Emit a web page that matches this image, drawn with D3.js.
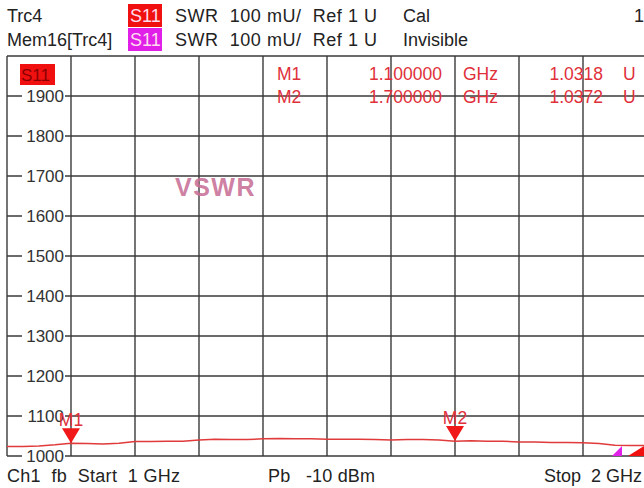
<!DOCTYPE html>
<html>
<head>
<meta charset="utf-8">
<script src="https://cdn.jsdelivr.net/npm/d3@7"></script>
<style>
    html, body { margin: 0; padding: 0; background: #fff; }
    svg { display: block; font-family: "Liberation Sans", Arial, sans-serif; }
    .grid line { stroke: #3a3a3a; stroke-width: 1.4; }
    .hdr { font-size: 18px; fill: #222; }
    .ylab { font-size: 17px; fill: #333; }
    .mk { font-size: 17.5px; fill: #e0303a; }
</style>
</head>
<body>
<svg id="chart" width="644" height="488"></svg>
<script>
// trace S11 SWR in mU, sampled every 25 MHz from 1 to 2 GHz
const freqGHz = [1.000, 1.025, 1.050, 1.075, 1.100, 1.125, 1.150, 1.175, 1.200, 1.225,
                 1.250, 1.275, 1.300, 1.325, 1.350, 1.375, 1.400, 1.425, 1.450, 1.475,
                 1.500, 1.525, 1.550, 1.575, 1.600, 1.625, 1.650, 1.675, 1.700, 1.725,
                 1.750, 1.775, 1.800, 1.825, 1.850, 1.875, 1.900, 1.925, 1.950, 1.975, 2.000];
const swrValues = [1024, 1024, 1025, 1028, 1032, 1031, 1030, 1032, 1036, 1036,
                   1037, 1037, 1040, 1042, 1041, 1041, 1043, 1044, 1043, 1043,
                   1042, 1042, 1042, 1041, 1040, 1041, 1041, 1040, 1037, 1038,
                   1037, 1037, 1035, 1035, 1034, 1034, 1033, 1031, 1027, 1026, 1026];

const yTicks = [1000, 1100, 1200, 1300, 1400, 1500, 1600, 1700, 1800, 1900, 2000];
const yTickLabels = ["1000", "1100", "1200", "1300", "1400", "1500", "1600", "1700", "1800", "1900"];
const xTicks = [1.0, 1.1, 1.2, 1.3, 1.4, 1.5, 1.6, 1.7, 1.8, 1.9, 2.0];

const markerNames = ["M1", "M2"];
const markerFreqs = [1.1, 1.7];
const markerFreqText = ["1.100000", "1.700000"];
const markerValueText = ["1.0318", "1.0372"];
const markerValues = [1031.8, 1037.2];

const svg = d3.select("#chart");
const x = d3.scaleLinear().domain([1, 2]).range([7, 647]);
const y = d3.scaleLinear().domain([1000, 2000]).range([456, 56]);

// header lines
const hdr = svg.append("g");
function headerRow(yy, name, badgeColor, status) {
    hdr.append("text").attr("class", "hdr").attr("x", 7).attr("y", yy).text(name);
    hdr.append("rect").attr("x", 128).attr("y", yy - 18).attr("width", 34).attr("height", 23).attr("fill", badgeColor);
    hdr.append("text").attr("class", "hdr").attr("x", 130).attr("y", yy).style("fill", "#fde").text("S11");
    hdr.append("text").attr("class", "hdr").attr("x", 175).attr("y", yy).attr("xml:space", "preserve")
        .attr("textLength", 202).text("SWR  100 mU/  Ref 1 U");
    hdr.append("text").attr("class", "hdr").attr("x", 403).attr("y", yy).text(status);
}
headerRow(22, "Trc4", "#f01010", "Cal");
headerRow(46, "Mem16[Trc4]", "#e020e8", "Invisible");
hdr.append("text").attr("class", "hdr").attr("x", 634).attr("y", 22).text("1");

// grid
const grid = svg.append("g").attr("class", "grid");
grid.selectAll(".h").data(yTicks).enter().append("line")
    .attr("x1", x(1)).attr("x2", x(2))
    .attr("y1", (d) => y(d)).attr("y2", (d) => y(d));
grid.selectAll(".v").data(xTicks).enter().append("line")
    .attr("x1", (d) => x(d)).attr("x2", (d) => x(d))
    .attr("y1", y(2000)).attr("y2", y(1000));

// y labels with white background
const ylab = svg.append("g").selectAll("g").data(yTickLabels).enter().append("g")
    .attr("transform", (d) => `translate(64,${y(+d)})`);
ylab.append("rect").attr("x", -42).attr("y", -9).attr("width", 43).attr("height", 18).attr("fill", "#fff");
ylab.append("text").attr("class", "ylab").attr("text-anchor", "end").attr("dy", "0.36em").text((d) => d);

// trace label
svg.append("rect").attr("x", 20).attr("y", 64).attr("width", 35).attr("height", 21).attr("fill", "#f01010");
svg.append("text").attr("x", 21).attr("y", 81).attr("font-size", 17).attr("fill", "#8a0000").text("S11");

// watermark
svg.append("text").attr("x", 175).attr("y", 196).attr("font-size", 25).attr("font-weight", "bold")
    .attr("letter-spacing", 1.5).attr("fill", "#c87096").attr("fill-opacity", 0.9).text("VSWR");

// marker table
const mt = svg.append("g").selectAll("g").data(markerNames).enter().append("g")
    .attr("transform", (d, i) => `translate(0,${80 + i * 23})`);
mt.append("text").attr("class", "mk").attr("x", 277).text((d) => d);
mt.append("text").attr("class", "mk").attr("x", 442).attr("text-anchor", "end").text((d, i) => markerFreqText[i]);
mt.append("text").attr("class", "mk").attr("x", 463).text("GHz");
mt.append("text").attr("class", "mk").attr("x", 603).attr("text-anchor", "end").text((d, i) => markerValueText[i]);
mt.append("text").attr("class", "mk").attr("x", 623).text("U");

// trace
const line = d3.line().x((d, i) => x(freqGHz[i])).y((d) => y(d));
svg.append("path").datum(swrValues).attr("d", line)
    .attr("fill", "none").attr("stroke", "#e03a3a").attr("stroke-width", 1.5);

// markers
const mk = svg.append("g").selectAll("g").data(markerNames).enter().append("g")
    .attr("transform", (d, i) => `translate(${x(markerFreqs[i])},${y(markerValues[i])})`);
mk.append("path").attr("d", "M-9,-15 L9,-15 L0,0 Z").attr("fill", "#f01818");
mk.append("text").attr("class", "mk").attr("text-anchor", "middle").attr("y", -17).text((d) => d);

// reference level arrows at right edge
svg.append("path").attr("d", "M612,456 L622,446 L622,456 Z").attr("fill", "#e020e8");
svg.append("path").attr("d", "M628,456 L644,446 L644,456 Z").attr("fill", "#f01010");

// footer
svg.append("text").attr("class", "hdr").attr("x", 7).attr("y", 482).attr("xml:space", "preserve")
    .attr("textLength", 173).text("Ch1  fb  Start  1 GHz");
svg.append("text").attr("class", "hdr").attr("x", 268).attr("y", 482).attr("xml:space", "preserve")
    .attr("textLength", 107).text("Pb   -10 dBm");
svg.append("text").attr("class", "hdr").attr("x", 642).attr("y", 482).attr("text-anchor", "end").attr("xml:space", "preserve").text("Stop  2 GHz");
</script>
</body>
</html>
